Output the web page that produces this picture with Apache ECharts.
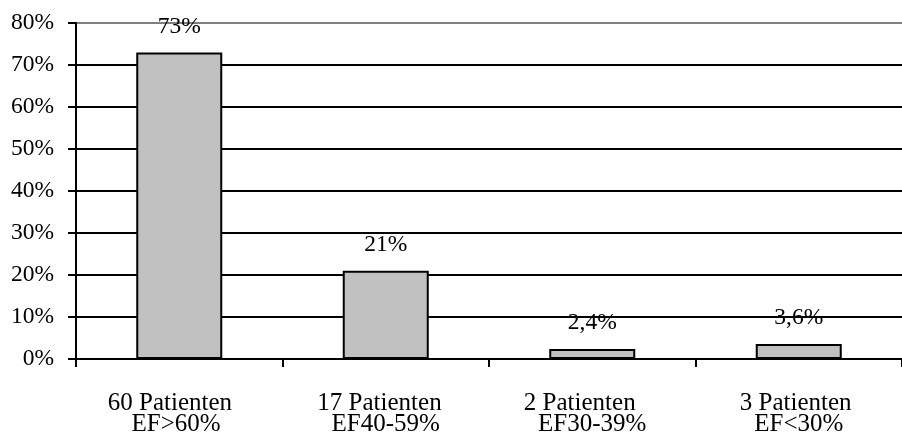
<!DOCTYPE html>
<html>
<head>
<meta charset="utf-8">
<script src="https://cdn.jsdelivr.net/npm/echarts@6/dist/echarts.min.js"></script>
<style>
  html, body { margin: 0; padding: 0; background: #fff; }
  #chart { width: 902px; height: 444px; }
</style>
</head>
<body>
<div id="chart"></div>
<script>
// Patient groups by ejection fraction (EF)
const categories = [
  '60 Patienten   \nEF>60% ',
  '17 Patienten  \nEF40-59%',
  '2 Patienten    \nEF30-39%',
  '3 Patienten \nEF<30%'
];
const shares = [73, 21, 2.4, 3.6];
const yTicks = [0, 10, 20, 30, 40, 50, 60, 70, 80];

const FONT = "'Liberation Serif', 'Times New Roman', serif";

// one colour per horizontal grid line, the topmost one is grey
const gridColors = yTicks.map((v, i) => (i === yTicks.length - 1 ? '#808080' : '#000000'));

const chart = echarts.init(document.getElementById('chart'), null, { renderer: 'canvas' });

chart.setOption({
  animation: false,
  backgroundColor: '#ffffff',
  grid: { left: 76, right: -12, top: 23, bottom: 85, containLabel: false },
  xAxis: {
    type: 'category',
    data: categories,
    boundaryGap: true,
    axisLine: { show: true, lineStyle: { color: '#000', width: 2 } },
    axisTick: { show: true, length: 8, alignWithLabel: false, lineStyle: { color: '#000', width: 2 } },
    axisLabel: {
      interval: 0,
      margin: 34,
      color: '#000',
      fontFamily: FONT,
      fontSize: 25,
      lineHeight: 21
    },
    splitLine: { show: false }
  },
  yAxis: {
    type: 'value',
    min: yTicks[0],
    max: yTicks[yTicks.length - 1],
    interval: yTicks[1] - yTicks[0],
    axisLine: { show: true, lineStyle: { color: '#000', width: 2 } },
    axisTick: { show: true, length: 8, lineStyle: { color: '#000', width: 2 } },
    axisLabel: {
      margin: 22,
      color: '#000',
      fontFamily: FONT,
      fontSize: 23.5,
      formatter: v => v + '%'
    },
    splitLine: { show: true, lineStyle: { color: gridColors, width: 2 } }
  },
  series: [{
    type: 'bar',
    data: shares,
    barWidth: 86,
    itemStyle: { color: '#c0c0c0', borderColor: '#000', borderWidth: 2 },
    label: {
      show: true,
      position: 'top',
      distance: 14,
      color: '#000',
      fontFamily: FONT,
      fontSize: 23.5,
      formatter: p => String(p.value).replace('.', ',') + '%'
    }
  }]
});
</script>
</body>
</html>
